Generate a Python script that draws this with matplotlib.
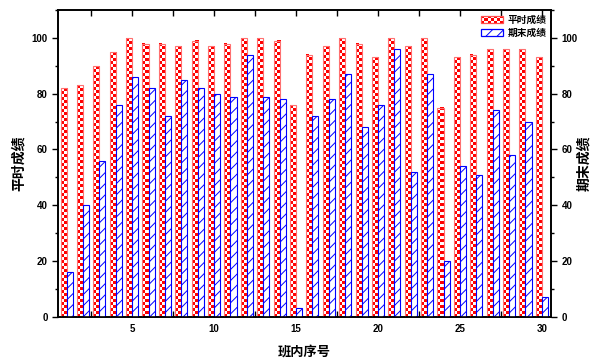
import numpy as np
import matplotlib
matplotlib.use("Agg")
import matplotlib.pyplot as plt
from matplotlib.colors import ListedColormap
from matplotlib.patches import Rectangle, Patch
from matplotlib.legend_handler import HandlerBase
from matplotlib.ticker import MultipleLocator

plt.rcParams["font.family"] = ["Liberation Sans", "Noto Sans CJK SC", "DejaVu Sans"]
plt.rcParams["hatch.linewidth"] = 0.7

#data
students = list(range(1, 31))
usual = [82, 83, 90, 95, 100, 98, 98, 97, 99, 97, 98, 100, 100, 99, 76,
         94, 97, 100, 98, 93, 100, 97, 100, 75, 93, 94, 96, 96, 96, 93]
final = [16, 40, 56, 76, 86, 82, 72, 85, 82, 80, 79, 94, 79, 78, 3,
         72, 78, 87, 68, 76, 96, 52, 87, 20, 54, 51, 74, 58, 70, 7]
labels = ["平时成绩", "期末成绩"]
xlabel = "班内序号"
cjk = ["Noto Sans CJK SC", "DejaVu Sans"]

#_____________________________________________________________________________
class HandlerChecker(HandlerBase):

    def create_artists(self, legend, orig_handle, xdescent, ydescent,
                       width, height, fontsize, trans):
        arts = []
        nx, ny = 7, 3
        cw, ch = width/nx, height/ny
        for i in range(nx):
            for j in range(ny):
                c = "red" if (i + j) % 2 == 0 else "white"
                arts.append(Rectangle((-xdescent + i*cw, -ydescent + j*ch), cw, ch,
                                      facecolor=c, edgecolor="none", transform=trans))
        arts.append(Rectangle((-xdescent, -ydescent), width, height, facecolor="none",
                              edgecolor="#ff5050", lw=0.9, transform=trans))
        return arts

#_____________________________________________________________________________
def main():

    fig = plt.figure(figsize=(5.94, 3.6), dpi=100)
    ax = fig.add_axes([0.098, 0.12, 0.83, 0.852])

    x = np.array(students)
    w = 0.37

    #red checkerboard bars
    red_bars = ax.bar(x - w/2, usual, w, facecolor="none", edgecolor="#ff7070",
                      lw=0.8, zorder=3)
    checker = ListedColormap(["red", "white"])
    px_per_unit = 2.79
    for b in red_bars:
        x0, y0 = b.get_x(), b.get_y()
        bw, bh = b.get_width(), b.get_height()
        nrow = max(1, int(round(bh*px_per_unit/3.0)))
        board = np.indices((nrow, 2)).sum(axis=0) % 2
        ax.imshow(board, cmap=checker, extent=(x0, x0 + bw, y0, y0 + bh),
                  origin="lower", aspect="auto", interpolation="nearest", zorder=2)

    #blue hatched bars
    ax.bar(x + w/2, final, w, facecolor="white", edgecolor="blue", hatch="///",
           lw=0.8, zorder=3)

    ax.set_xlim(0.49, 30.57)
    ax.set_ylim(0, 110)
    ax.set_aspect("auto")

    ax.set_xticks([5, 10, 15, 20, 25, 30])
    ax.xaxis.set_minor_locator(MultipleLocator(2.5))
    ax.set_yticks([0, 20, 40, 60, 80, 100])
    ax.yaxis.set_minor_locator(MultipleLocator(10))

    ax.tick_params(axis="x", which="both", direction="in", top=True, bottom=True,
                   length=4, width=1, labelsize=7, pad=5)
    ax.tick_params(axis="y", which="major", direction="out", length=4, width=1,
                   labelsize=7, right=False)
    ax.tick_params(axis="y", which="minor", direction="out", length=2, width=1,
                   right=False)
    for t in ax.get_xticklabels() + ax.get_yticklabels():
        t.set_fontweight("bold")

    for s in ax.spines.values():
        s.set_linewidth(1.2)

    ax.set_xlabel(xlabel, fontsize=9.5, fontweight="bold", family=cjk, labelpad=8)
    ax.set_ylabel(labels[0], fontsize=10, fontweight="bold", family=cjk)
    ax.yaxis.set_label_coords(-0.066, 0.5)

    #right axis
    ax2 = ax.twinx()
    ax2.set_ylim(0, 110)
    ax2.set_yticks([0, 20, 40, 60, 80, 100])
    ax2.yaxis.set_minor_locator(MultipleLocator(10))
    ax2.tick_params(axis="y", which="major", direction="out", length=4, width=1,
                    labelsize=7)
    ax2.tick_params(axis="y", which="minor", direction="out", length=2, width=1)
    for t in ax2.get_yticklabels():
        t.set_fontweight("bold")
    for s in ax2.spines.values():
        s.set_linewidth(1.2)
    ax2.set_ylabel(labels[1], fontsize=10, fontweight="bold", family=cjk,
                   rotation=90)
    ax2.yaxis.set_label_coords(1.053, 0.5)

    #legend
    h_red = Patch(facecolor="red")
    h_blue = Patch(facecolor="white", edgecolor="blue", hatch="///", lw=0.9)
    ax2.legend([h_red, h_blue], labels, loc="upper right",
               bbox_to_anchor=(1.0, 1.0), frameon=False,
               handler_map={h_red: HandlerChecker()},
               prop={"family": cjk, "weight": "bold", "size": 7},
               handlelength=2.3, handleheight=0.85, handletextpad=0.4,
               labelspacing=0.3, borderaxespad=0.3, borderpad=0.2)

    fig.savefig("out.png", dpi=100)
    plt.close()

#main

#_____________________________________________________________________________
if __name__ == "__main__":

    main()
